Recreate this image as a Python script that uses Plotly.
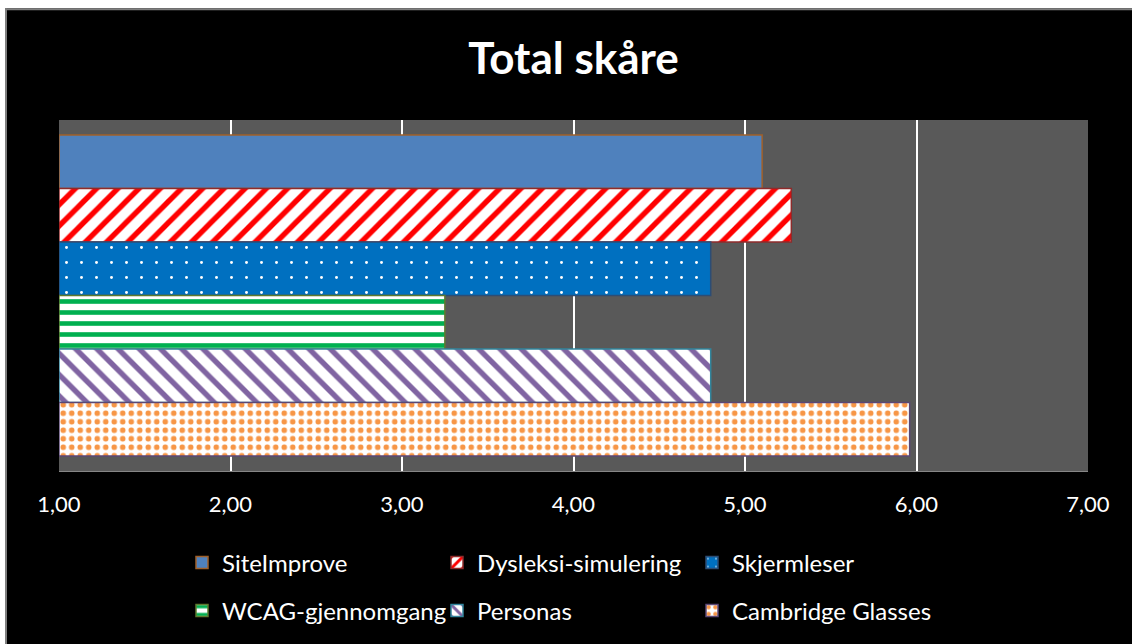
import plotly.graph_objects as go

# Data
series = ["SiteImprove", "Dysleksi-simulering", "Skjermleser",
          "WCAG-gjennomgang", "Personas", "Cambridge Glasses"]
scores = [5.10, 5.27, 4.80, 3.25, 4.80, 5.96]
category = ["Total skåre"]
tick_vals = [1, 2, 3, 4, 5, 6, 7]
axis_min = 1

# Styles per series: (fill colour, pattern shape, pattern fg, pattern bg, size, solidity, outline)
styles = [
    ("#4F81BD", "", None, None, 8, 0.3, "#A0602A"),
    ("#FFFFFF", "/", "#FF0000", "#FFFFFF", 15, 0.36, "#8E2B2B"),
    ("#0070C0", ".", "#FFFFFF", "#0070C0", 15, 0.03, "#2C4D75"),
    ("#FFFFFF", "-", "#00B050", "#FFFFFF", 11, 0.42, "#5E7A2E"),
    ("#FFFFFF", "\\", "#8064A2", "#FFFFFF", 15, 0.36, "#31859C"),
    ("#FFFFFF", ".", "#F79646", "#FFFFFF", 8.5, 0.33, "#5B4775"),
]

FONT = "Lato"

fig = go.Figure()
for i, (name, val) in enumerate(zip(series, scores)):
    fill, shape, fg, bg, size, sol, outline = styles[i]
    pattern = dict(shape=shape)
    if shape:
        pattern.update(fgcolor=fg, bgcolor=bg, size=size, solidity=sol, fillmode="replace")
    # bars grow from the axis minimum up to the score
    fig.add_trace(go.Bar(
        x=[val - axis_min], base=axis_min, y=category, name=name, orientation="h",
        marker=dict(color=fill, pattern=pattern,
                    line=dict(color=outline, width=1.5)),
        legend="legend" if i < 3 else "legend2",
        hovertemplate=f"{name}: %{{x:.2f}}<extra></extra>",
    ))

L, R, T, B = 59, 44, 120, 172
W = 1132 - L - R
H = 644 - T - B


def px_x(p):
    return (p - L) / W


def px_y(p):
    return 1 - (p - T) / H


legend_common = dict(orientation="h", x=px_x(182), xanchor="left",
                     yanchor="middle", entrywidth=210, entrywidthmode="pixels",
                     font=dict(family=FONT, size=24, color="#FFFFFF"),
                     bgcolor="rgba(0,0,0,0)", traceorder="normal")

fig.update_layout(
    width=1132, height=644,
    margin=dict(l=L, r=R, t=T, b=B, pad=0),
    paper_bgcolor="#000000",
    plot_bgcolor="#595959",
    barmode="group", bargap=0.085, bargroupgap=0,
    separators=", ",
    font=dict(family=FONT, color="#FFFFFF"),
    title=dict(text="<b>Total skåre</b>", x=0.5, xref="paper", xanchor="center",
               y=1 - 59 / 644, yref="container", yanchor="middle",
               font=dict(family=FONT, size=44, color="#FFFFFF")),
    xaxis=dict(range=[1, 7], tickvals=tick_vals, tickformat=".2f",
               showgrid=True, gridcolor="#FFFFFF", gridwidth=2,
               zeroline=False, showline=True, linecolor="#868686", linewidth=1,
               ticks="", ticklabelstandoff=14,
               tickfont=dict(family=FONT, size=22, color="#FFFFFF"),
               fixedrange=True),
    yaxis=dict(autorange="reversed", showticklabels=False, showgrid=False,
               zeroline=False, ticks="", fixedrange=True),
    legend=dict(legend_common, y=px_y(563)),
    legend2=dict(legend_common, y=px_y(611)),
    shapes=[
        # white page margin above and left of the chart frame
        dict(type="rect", xref="paper", yref="paper", layer="above",
             x0=px_x(-2), x1=px_x(1140), y0=px_y(8), y1=px_y(-2),
             fillcolor="#FFFFFF", line=dict(width=0)),
        dict(type="rect", xref="paper", yref="paper", layer="above",
             x0=px_x(-2), x1=px_x(5), y0=px_y(650), y1=px_y(-2),
             fillcolor="#FFFFFF", line=dict(width=0)),
        # grey chart frame edges
        dict(type="line", xref="paper", yref="paper", layer="above",
             x0=px_x(5), x1=px_x(1140), y0=px_y(9), y1=px_y(9),
             line=dict(color="#7F7F7F", width=2)),
        dict(type="line", xref="paper", yref="paper", layer="above",
             x0=px_x(6), x1=px_x(6), y0=px_y(8), y1=px_y(650),
             line=dict(color="#7F7F7F", width=2)),
    ],
)

fig.write_html("out.html")
